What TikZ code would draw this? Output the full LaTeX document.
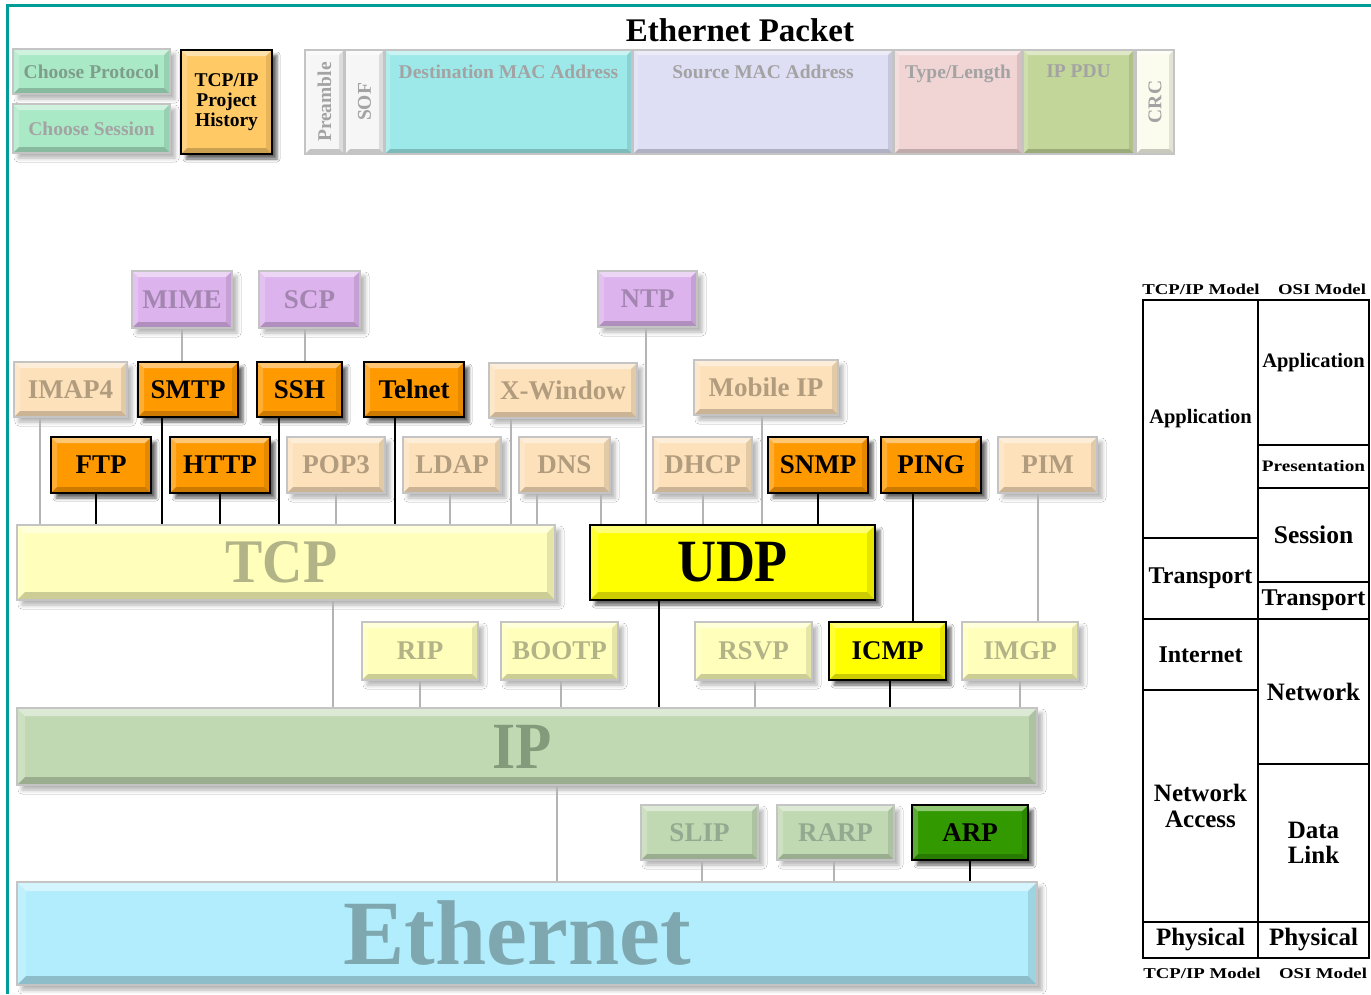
\documentclass[tikz,border=0pt]{standalone}
\usepackage{fontspec}
\usepackage{graphicx}
\setmainfont{Liberation Serif}
\newfontfamily\condfont{Liberation Serif}[FakeStretch=0.9]
\usetikzlibrary{shadows.blur}

\definecolor{frameteal}{HTML}{009C98}
\definecolor{boxgray}{HTML}{C4C4C4}
\definecolor{peach}{HTML}{FDE1BB}
\definecolor{peachtxt}{HTML}{B29C7E}
\definecolor{purp}{HTML}{DDB3EE}
\definecolor{purptxt}{HTML}{A286B0}
\definecolor{orng}{HTML}{FF9900}
\definecolor{pyell}{HTML}{FFFFBB}
\definecolor{pyelltxt}{HTML}{B3B388}
\definecolor{yell}{HTML}{FFFF00}
\definecolor{ipgrn}{HTML}{C1D9B3}
\definecolor{ipgrntxt}{HTML}{839B7B}
\definecolor{slipgrn}{HTML}{C1D9B3}
\definecolor{sliptxt}{HTML}{93A990}
\definecolor{arpgrn}{HTML}{339900}
\definecolor{ethcyan}{HTML}{B1EDFC}
\definecolor{ethtxt}{HTML}{7FA7AF}
\definecolor{mint}{HTML}{A9E9C6}
\definecolor{minttxt}{HTML}{7E9E8C}
\definecolor{histor}{HTML}{FFC966}
\definecolor{pkwhite}{HTML}{F6F6F6}
\definecolor{pkdst}{HTML}{9DE9E9}
\definecolor{pksrc}{HTML}{DEDEF5}
\definecolor{pktyp}{HTML}{F1D5D5}
\definecolor{pkpdu}{HTML}{C3D699}
\definecolor{pkcrc}{HTML}{FCFCEE}
\definecolor{pkttxt}{HTML}{A3A3A3}
\definecolor{lnkgray}{HTML}{B4B4B4}

\newcommand\lblfont{\bfseries\fontsize{27}{27}\selectfont}
\newcommand\pktfont{\bfseries\fontsize{19.5}{20}\selectfont}
\newcommand\osifont{\bfseries\fontsize{24}{26}\selectfont}

\newcommand\bx[7][]{\node[#1, minimum width={#5pt-#3pt}, minimum height={#6pt-#4pt}] (#2) at ({(#3+#5)/2},{(#4+#6)/2}) {#7};}
\newcommand\conn[4][gl]{\draw[#1] ([xshift=#4pt]#2.south) -- ([xshift=#4pt]#2.south |- #3.north);}

\tikzset{
  x=1pt, y=-1pt,
  bevel/.style={path picture={
    \coordinate (nw) at (path picture bounding box.north west);
    \coordinate (se) at (path picture bounding box.south east);
    \fill[white,fill opacity=.45] (nw) -- (nw -| se) -- ([shift={(-#1pt,-#1pt)}]nw -| se) -- ([shift={(#1pt,-#1pt)}]nw) -- cycle;
    \fill[white,fill opacity=.2] (nw) -- ([shift={(#1pt,-#1pt)}]nw) -- ([shift={(#1pt,#1pt)}]nw |- se) -- (nw |- se) -- cycle;
    \fill[black,fill opacity=.2] (nw |- se) -- (se) -- ([shift={(-#1pt,#1pt)}]se) -- ([shift={(#1pt,#1pt)}]nw |- se) -- cycle;
    \fill[black,fill opacity=.1] (nw -| se) -- ([shift={(-#1pt,-#1pt)}]nw -| se) -- ([shift={(-#1pt,#1pt)}]se) -- (se) -- cycle;
  }},
  bevel/.default=6,
  soft/.style={blur shadow={shadow xshift=5pt, shadow yshift=-5pt, shadow blur radius=4pt, shadow opacity=30}},
  hard/.style={blur shadow={shadow xshift=5pt, shadow yshift=-5pt, shadow blur radius=3pt, shadow opacity=60}},
  box/.style={inner sep=0pt, align=center, font=\lblfont},
  palebox/.style={box, draw=boxgray, line width=1.5pt, bevel, soft},
  darkbox/.style={box, draw=black, line width=2.2pt, text=black, bevel, hard},
  peachbox/.style={palebox, fill=peach, text=peachtxt},
  purpbox/.style={palebox, fill=purp, text=purptxt},
  pyellbox/.style={palebox, fill=pyell, text=pyelltxt},
  slipbox/.style={palebox, fill=slipgrn, text=sliptxt},
  orbox/.style={darkbox, fill=orng},
  yellbox/.style={darkbox, fill=yell},
  arpbox/.style={darkbox, fill=arpgrn},
  pkt/.style={inner sep=0pt, draw=boxgray, line width=1.2pt, text=pkttxt, font=\pktfont, bevel=5},
  pktlbl/.style={anchor=north, yshift=-15pt, inner sep=0pt, text=pkttxt, font=\pktfont},
  cell/.style={draw=black, line width=2.2pt, inner sep=0pt, align=center, font=\osifont, text=black},
  hdr/.style={inner sep=0pt, font=\bfseries\fontsize{15}{15}\selectfont},
  gl/.style={draw=lnkgray, line width=2pt},
  bl/.style={draw=black, line width=2.8pt},
  frame/.style={draw=frameteal, line width=3pt},
}

\begin{document}
\begin{tikzpicture}
\useasboundingbox (0,0) rectangle (1371,994);
\fill[white] (0,0) rectangle (1371,994);
\draw[frame] (7,994) -- (7,5) -- (1371,5);

% top-left buttons
\bx[palebox, fill=mint, text=minttxt, font=\pktfont]{CP}{13}{49}{170}{94}{Choose Protocol}
\bx[palebox, fill=mint, text=pkttxt, font=\pktfont]{CS}{13}{104}{170}{153}{Choose Session}
\bx[darkbox, fill=histor, font=\pktfont]{HIST}{181}{50}{272}{154}{TCP/IP\\Project\\History}

% Ethernet packet
\node[font=\bfseries\fontsize{33}{33}\selectfont] (title) at (740,30) {Ethernet Packet};
\bx[pkt, fill=pkwhite]{PRE}{305}{50}{344}{154}{\rotatebox{90}{Preamble}}
\bx[pkt, fill=pkwhite]{SOF}{345}{50}{384}{154}{\rotatebox{90}{SOF}}
\bx[pkt, fill=pkdst, label={[pktlbl]north:Destination MAC Address}]{DST}{385}{50}{632}{154}{}
\bx[pkt, fill=pksrc, label={[pktlbl]north:Source MAC Address}]{SRC}{633}{50}{893}{154}{}
\bx[pkt, fill=pktyp, label={[pktlbl]north:Type/Length}]{TYP}{894}{50}{1022}{154}{}
\bx[pkt, fill=pkpdu, label={[pktlbl]north:IP PDU}]{PDU}{1023}{50}{1134}{154}{}
\bx[pkt, fill=pkcrc]{CRC}{1136}{50}{1174}{154}{\rotatebox{90}{CRC}}

% purple row
\bx[purpbox]{MIME}{132}{271}{232}{328}{MIME}
\bx[purpbox]{SCP}{259}{271}{360}{328}{SCP}
\bx[purpbox]{NTP}{598}{271}{697}{327}{NTP}

% row 2
\bx[peachbox]{IMAP}{14}{362}{127}{417}{IMAP4}
\bx[orbox]{SMTP}{138}{362}{238}{417}{SMTP}
\bx[orbox]{SSH}{257}{362}{342}{417}{SSH}
\bx[orbox]{TELNET}{364}{362}{464}{417}{Telnet}
\bx[peachbox]{XWIN}{489}{363}{637}{418}{X-Window}
\bx[peachbox]{MOBIP}{694}{360}{838}{415}{Mobile IP}

% row 3
\bx[orbox]{FTP}{51}{437}{151}{493}{FTP}
\bx[orbox]{HTTP}{170}{437}{270}{493}{HTTP}
\bx[peachbox]{POP}{287}{437}{385}{493}{POP3}
\bx[peachbox]{LDAP}{403}{437}{501}{493}{LDAP}
\bx[peachbox]{DNS}{519}{437}{610}{493}{DNS}
\bx[peachbox]{DHCP}{653}{437}{752}{493}{DHCP}
\bx[orbox]{SNMP}{768}{437}{868}{493}{SNMP}
\bx[orbox]{PING}{881}{437}{981}{493}{PING}
\bx[peachbox]{PIM}{998}{437}{1097}{493}{PIM}

% transport
\bx[pyellbox, bevel=8, font=\condfont\bfseries\fontsize{62}{62}\selectfont]{TCP}{17}{525}{555}{600}{\hspace*{-9pt}TCP}
\bx[yellbox, bevel=8, font=\condfont\bfseries\fontsize{60}{60}\selectfont]{UDP}{590}{525}{875}{600}{UDP}

% row 4
\bx[pyellbox]{RIP}{362}{622}{478}{680}{RIP}
\bx[pyellbox]{BOOTP}{501}{622}{618}{680}{BOOTP}
\bx[pyellbox]{RSVP}{695}{622}{812}{680}{RSVP}
\bx[yellbox]{ICMP}{829}{622}{946}{680}{ICMP}
\bx[pyellbox]{IMGP}{962}{622}{1078}{680}{IMGP}

% IP
\bx[palebox, bevel=8, fill=ipgrn, text=ipgrntxt, font=\condfont\bfseries\fontsize{66}{66}\selectfont]{IP}{17}{708}{1037}{785}{\hspace*{-10pt}IP}

% row 5
\bx[slipbox]{SLIP}{641}{805}{758}{860}{SLIP}
\bx[slipbox]{RARP}{777}{805}{894}{860}{RARP}
\bx[arpbox]{ARP}{912}{805}{1028}{860}{ARP}

% Ethernet
\bx[palebox, bevel=9, fill=ethcyan, text=ethtxt, font=\bfseries\fontsize{92}{92}\selectfont]{ETH}{17}{882}{1037}{985}{\hspace*{-20pt}Ethernet}

% connectors
\conn{MIME}{SMTP}{0}
\conn{SCP}{SSH}{-5}
\conn{NTP}{UDP}{-1.5}
\conn{IMAP}{TCP}{-30.5}
\conn{XWIN}{TCP}{-52}
\conn{POP}{TCP}{0}
\conn{LDAP}{TCP}{-2}
\conn{DNS}{TCP}{-27.5}
\conn{DNS}{UDP}{36.5}
\conn{DHCP}{UDP}{0}
\conn{MOBIP}{UDP}{-4}
\conn{PIM}{IMGP}{-9.5}
\conn{TCP}{IP}{47}
\conn{RIP}{IP}{0}
\conn{BOOTP}{IP}{1.5}
\conn{RSVP}{IP}{1.5}
\conn{IMGP}{IP}{0}
\conn{IP}{ETH}{30}
\conn{SLIP}{ETH}{2.5}
\conn{RARP}{ETH}{-1.5}
\conn[bl]{FTP}{TCP}{-5}
\conn[bl]{SMTP}{TCP}{-26}
\conn[bl]{HTTP}{TCP}{0}
\conn[bl]{SSH}{TCP}{-20.5}
\conn[bl]{TELNET}{TCP}{-19}
\conn[bl]{SNMP}{UDP}{0}
\conn[bl]{PING}{ICMP}{-18}
\conn[bl]{UDP}{IP}{-73.5}
\conn[bl]{ICMP}{IP}{2.5}
\conn[bl]{ARP}{ETH}{0}

% OSI / TCP-IP table
\node[hdr] (h1) at (1201,289) {\scalebox{1.25}[1]{TCP/IP Model}};
\node[hdr] (h2) at (1322,289) {\scalebox{1.25}[1]{OSI Model}};
\node[hdr] (h3) at (1202,973) {\scalebox{1.25}[1]{TCP/IP Model}};
\node[hdr] (h4) at (1323,973) {\scalebox{1.25}[1]{OSI Model}};

\bx[cell, font=\bfseries\fontsize{20.5}{22}\selectfont]{L1}{1143}{300}{1258}{538}{Application}
\bx[cell]{L2}{1143}{538}{1258}{619}{Transport}
\bx[cell]{L3}{1143}{619}{1258}{690}{Internet}
\bx[cell, font=\bfseries\fontsize{25}{26}\selectfont]{L4}{1143}{690}{1258}{922}{Network\\Access}
\bx[cell, font=\bfseries\fontsize{25}{26}\selectfont]{L5}{1143}{922}{1258}{958}{Physical}
\bx[cell, label={[inner sep=0pt, yshift=10pt, font=\bfseries\fontsize{20.5}{22}\selectfont]center:Application}]{R1}{1258}{300}{1369}{445}{}
\bx[cell, font=\bfseries\fontsize{16}{18}\selectfont]{R2}{1258}{445}{1369}{488}{\scalebox{1.2}[1]{Presentation}}
\bx[cell, font=\bfseries\fontsize{25.5}{26}\selectfont]{R3}{1258}{488}{1369}{582}{Session}
\bx[cell]{R4}{1258}{582}{1369}{619}{Transport}
\bx[cell, font=\bfseries\fontsize{25}{26}\selectfont]{R5}{1258}{619}{1369}{764}{Network}
\bx[cell, font=\bfseries\fontsize{25}{25}\selectfont]{R6}{1258}{764}{1369}{922}{Data\\Link}
\bx[cell, font=\bfseries\fontsize{25}{26}\selectfont]{R7}{1258}{922}{1369}{958}{Physical}
\end{tikzpicture}
\end{document}
